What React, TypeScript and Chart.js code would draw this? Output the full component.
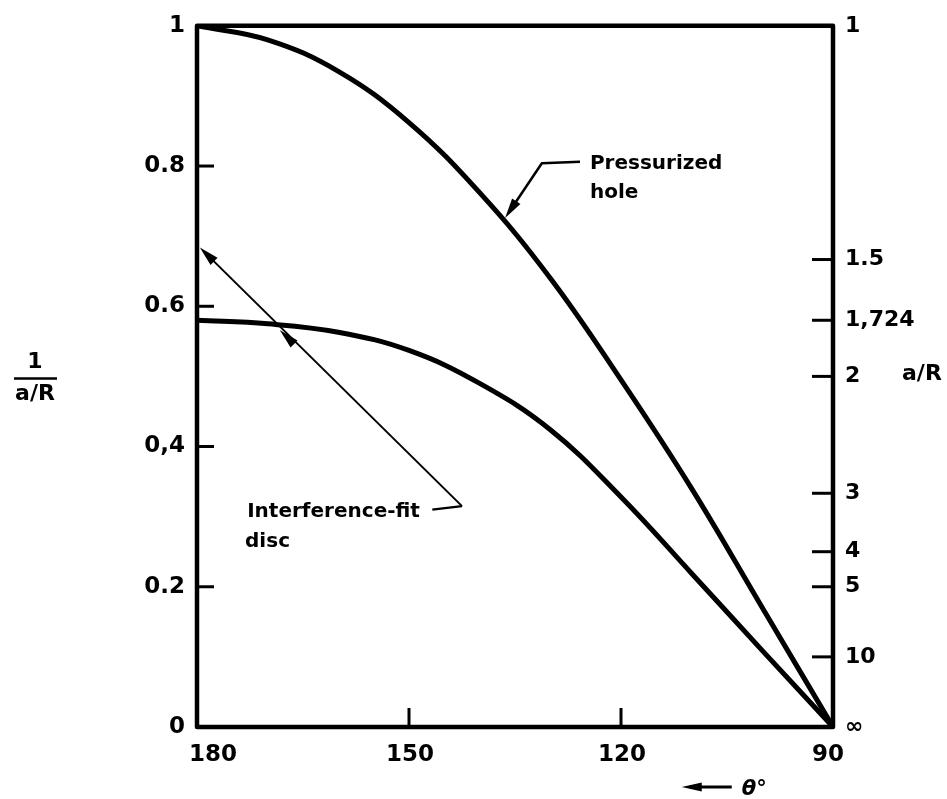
import React, { useEffect, useRef } from 'react';
import { Chart, registerables } from 'chart.js';
Chart.register(...registerables);

// ---- data ----
const thetaDeg = [180, 170, 160, 150, 140, 130, 120, 110, 100, 90];
const pressurizedHole = [1.0, 0.98, 0.935, 0.862, 0.762, 0.64, 0.495, 0.34, 0.17, 0];
const interferenceFitDisc = [0.58, 0.575, 0.563, 0.537, 0.49, 0.424, 0.328, 0.219, 0.109, 0];

const xTickValues = [180, 150, 120, 90];
const xTickLabels = ['180', '150', '120', '90'];
const leftTickValues = [0, 0.2, 0.4, 0.6, 0.8, 1];
const leftTickLabels = ['0', '0.2', '0,4', '0.6', '0.8', '1'];
const rightTickAR = [1, 1.5, 1.724, 2, 3, 4, 5, 10, Infinity];
const rightTickLabels = ['1', '1.5', '1,724', '2', '3', '4', '5', '10', '∞'];
const rightTickValues = rightTickAR.map((a) => (a === Infinity ? 0 : 1 / a));

const FONT = '"DejaVu Sans", sans-serif';

function line(ctx: CanvasRenderingContext2D, x1: number, y1: number, x2: number, y2: number) {
  ctx.beginPath();
  ctx.moveTo(x1, y1);
  ctx.lineTo(x2, y2);
  ctx.stroke();
}

function arrowHead(ctx: CanvasRenderingContext2D, tx: number, ty: number, fx: number, fy: number, len = 18, hw = 4.5) {
  const dx = tx - fx, dy = ty - fy;
  const d = Math.hypot(dx, dy) || 1;
  const ux = dx / d, uy = dy / d;
  const bx = tx - ux * len, by = ty - uy * len;
  ctx.beginPath();
  ctx.moveTo(tx, ty);
  ctx.lineTo(bx - uy * hw, by + ux * hw);
  ctx.lineTo(bx + uy * hw, by - ux * hw);
  ctx.closePath();
  ctx.fill();
}

const decorPlugin = {
  id: 'decor',
  afterDatasetsDraw(chart: any) {
    const ctx: CanvasRenderingContext2D = chart.ctx;
    const { left, right, top, bottom } = chart.chartArea;
    const xs = chart.scales.x, ys = chart.scales.y, ys2 = chart.scales.y2;
    const P = (t: number, v: number): [number, number] => [xs.getPixelForValue(t), ys.getPixelForValue(v)];
    ctx.save();
    ctx.strokeStyle = '#000';
    ctx.fillStyle = '#000';
    ctx.lineCap = 'butt';
    ctx.lineJoin = 'round';

    // frame
    ctx.lineWidth = 4.5;
    ctx.strokeRect(left, top, right - left, bottom - top);

    // inward ticks
    ctx.lineWidth = 3;
    leftTickValues.forEach((v) => {
      if (v === 0 || v === 1) return;
      const y = ys.getPixelForValue(v);
      line(ctx, left, y, left + 17, y);
    });
    xTickValues.forEach((t) => {
      if (t === 180 || t === 90) return;
      const x = xs.getPixelForValue(t);
      line(ctx, x, bottom, x, bottom - 19);
    });
    rightTickValues.forEach((v) => {
      if (v === 0 || v === 1) return;
      const y = ys2.getPixelForValue(v);
      line(ctx, right, y, right - 21, y);
    });

    // x tick labels
    ctx.font = `bold 23px ${FONT}`;
    ctx.textBaseline = 'middle';
    xTickValues.forEach((t, i) => {
      const x = xs.getPixelForValue(t);
      if (t === 180) {
        ctx.textAlign = 'left';
        ctx.fillText(xTickLabels[i], x - 8, bottom + 28);
      } else if (t === 90) {
        ctx.textAlign = 'center';
        ctx.fillText(xTickLabels[i], x - 5, bottom + 28);
      } else {
        ctx.textAlign = 'center';
        ctx.fillText(xTickLabels[i], x + 1, bottom + 28);
      }
    });

    // theta arrow label
    const ax = xs.getPixelForValue(111.4);
    const ay = bottom + 60;
    ctx.lineWidth = 3;
    line(ctx, ax + 8, ay, ax + 50, ay);
    arrowHead(ctx, ax, ay, ax + 50, ay, 20, 4.5);
    ctx.font = `italic bold 21px ${FONT}`;
    ctx.textAlign = 'left';
    ctx.textBaseline = 'alphabetic';
    ctx.fillText('θ°', ax + 60, ay + 8);

    // left axis title (fraction)
    const mid = ys.getPixelForValue(0.5);
    ctx.font = `bold 22px ${FONT}`;
    ctx.textAlign = 'center';
    ctx.fillText('1', 35, mid - 8);
    ctx.lineWidth = 2.5;
    line(ctx, 14, mid + 2, 57, mid + 2);
    ctx.fillText('a/R', 35, mid + 24);
    // right axis title
    ctx.textAlign = 'left';
    ctx.fillText('a/R', 902, mid + 4);

    // Pressurized hole annotation
    const pTip = P(136.4, 0.726), pElbow = P(131.2, 0.804), pEnd = P(125.8, 0.806);
    ctx.lineWidth = 2.5;
    ctx.beginPath();
    ctx.moveTo(pEnd[0], pEnd[1]);
    ctx.lineTo(pElbow[0], pElbow[1]);
    ctx.lineTo(pTip[0] + (pElbow[0] - pTip[0]) * 0.2, pTip[1] + (pElbow[1] - pTip[1]) * 0.2);
    ctx.stroke();
    arrowHead(ctx, pTip[0], pTip[1], pElbow[0], pElbow[1], 20, 5);
    ctx.font = `bold 20px ${FONT}`;
    const pt = P(124.4, 0.796);
    ctx.fillText('Pressurized', pt[0], pt[1]);
    const ph = P(124.4, 0.755);
    ctx.fillText('hole', ph[0], ph[1]);

    // Interference-fit disc annotation
    const iTip1 = P(179.6, 0.684), iTip2 = P(168.3, 0.566), iCorner = P(142.5, 0.315), iEnd = P(146.7, 0.31);
    ctx.lineWidth = 2;
    line(ctx, iCorner[0], iCorner[1], iTip1[0] + 6, iTip1[1] + 6);
    ctx.lineWidth = 2.5;
    line(ctx, iEnd[0], iEnd[1], iCorner[0], iCorner[1]);
    arrowHead(ctx, iTip1[0], iTip1[1], iCorner[0], iCorner[1], 20, 5);
    arrowHead(ctx, iTip2[0], iTip2[1], iCorner[0], iCorner[1], 20, 5);
    const it = P(172.9, 0.299);
    ctx.fillText('Interference-fit', it[0], it[1]);
    const id = P(173.2, 0.257);
    ctx.fillText('disc', id[0], id[1]);

    ctx.restore();
  },
};

export default function App() {
  const ref = useRef<HTMLCanvasElement | null>(null);
  useEffect(() => {
    if (!ref.current) return;
    const chart = new Chart(ref.current, {
      type: 'line',
      data: {
        datasets: [
          {
            label: 'Pressurized hole',
            data: thetaDeg.map((t, i) => ({ x: t, y: pressurizedHole[i] })),
            borderColor: '#000',
            borderWidth: 5,
            pointRadius: 0,
            tension: 0.4,
            fill: false,
          },
          {
            label: 'Interference-fit disc',
            data: thetaDeg.map((t, i) => ({ x: t, y: interferenceFitDisc[i] })),
            borderColor: '#000',
            borderWidth: 5,
            pointRadius: 0,
            tension: 0.4,
            fill: false,
          },
        ],
      },
      options: {
        animation: false,
        responsive: false,
        devicePixelRatio: 1,
        layout: { padding: { top: 22, left: 0, right: 0, bottom: 0 } },
        plugins: { legend: { display: false }, tooltip: { enabled: false } },
        events: [],
        scales: {
          x: {
            type: 'linear',
            min: 90,
            max: 180,
            reverse: true,
            grid: { display: false },
            border: { display: false },
            ticks: { display: false },
            afterBuildTicks: (s: any) => { s.ticks = xTickValues.map((v) => ({ value: v })); },
            afterFit: (s: any) => { s.height = 72; },
          },
          y: {
            type: 'linear',
            position: 'left',
            min: 0,
            max: 1,
            grid: { display: false, drawTicks: false },
            border: { display: false },
            afterBuildTicks: (s: any) => { s.ticks = leftTickValues.map((v) => ({ value: v })); },
            ticks: {
              autoSkip: false,
              padding: 12,
              color: '#000',
              font: { family: FONT, size: 23, weight: 'bold' },
              callback: (v: any) => {
                const i = leftTickValues.findIndex((t) => Math.abs(t - v) < 1e-9);
                return i >= 0 ? leftTickLabels[i] : '';
              },
            },
            afterFit: (s: any) => { s.width = 197; },
          },
          y2: {
            type: 'linear',
            position: 'right',
            min: 0,
            max: 1,
            grid: { display: false, drawTicks: false },
            border: { display: false },
            afterBuildTicks: (s: any) => { s.ticks = rightTickValues.map((v) => ({ value: v })); },
            ticks: {
              autoSkip: false,
              padding: 12,
              color: '#000',
              font: { family: FONT, size: 22, weight: 'bold' },
              callback: (v: any) => {
                const i = rightTickValues.findIndex((t) => Math.abs(t - v) < 1e-9);
                return i >= 0 ? rightTickLabels[i] : '';
              },
            },
            afterFit: (s: any) => { s.width = 114; },
          },
        },
      } as any,
      plugins: [decorPlugin],
    });
    return () => chart.destroy();
  }, []);
  return (
    <div style={{ position: 'fixed', left: 0, top: 0, width: 947, height: 799, background: '#fff' }}>
      <canvas ref={ref} width={947} height={799} style={{ display: 'block', width: 947, height: 799 }} />
    </div>
  );
}
